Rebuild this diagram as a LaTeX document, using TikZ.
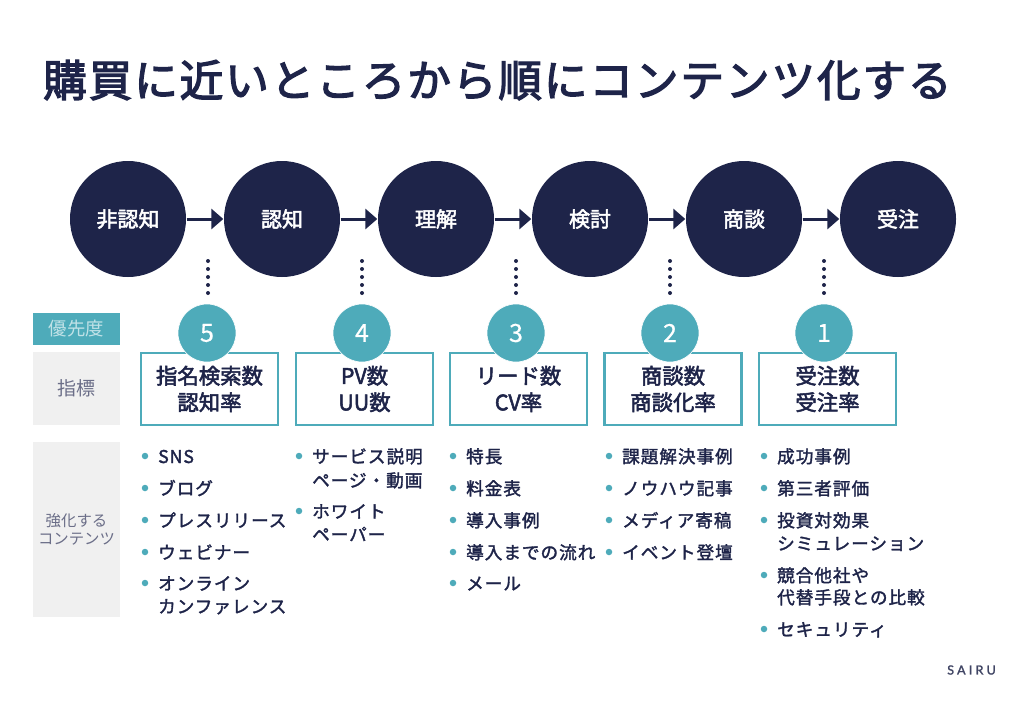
\documentclass[tikz,border=0pt]{standalone}
\usepackage{fontspec}
\setmainfont{Noto Sans CJK JP}
\newfontfamily\titlefont[LetterSpace=4.4,FakeBold=3]{Noto Sans CJK JP}
\newfontfamily\medfont[FakeBold=2.4]{Noto Sans CJK JP}
\newfontfamily\itemfont[LetterSpace=5.6,FakeBold=1.8]{Noto Sans CJK JP}
\newfontfamily\lightfont[FakeBold=0.6]{Noto Sans CJK JP}
\newfontfamily\logofont[LetterSpace=26,FakeBold=1.8]{Lato}
\definecolor{navy}{HTML}{1E2449}
\definecolor{teal2}{HTML}{4EABBA}
\definecolor{panel}{HTML}{F0F0F0}
\definecolor{graytext}{HTML}{6B6E88}
\usetikzlibrary{arrows.meta}
\tikzset{
  stage/.style={circle,fill=navy,draw=none,minimum size=116pt,inner sep=0pt,text=white,font=\medfont\fontsize{21}{21}\selectfont},
  flow/.style={draw=navy,line width=3pt,-{Triangle[length=12pt,width=20pt]},shorten >=0.5pt,shorten <=0.5pt},
  dotline/.style={draw=navy,line width=4pt,line cap=round,dash pattern=on 0pt off 8pt},
  metric/.style={draw=teal2,fill=white,line width=2.6pt,minimum width=137pt,minimum height=72pt,inner sep=0pt,align=center,text=navy,font=\medfont\fontsize{21.4}{26.5}\selectfont},
  prio/.style={circle,fill=teal2,draw=white,line width=0.6pt,minimum size=58pt,inner sep=0pt,text=white,font=\lightfont\fontsize{25}{25}\selectfont},
  panelbox/.style={fill=panel,draw=none,minimum width=87pt,inner sep=0pt,align=center,text=graytext},
  itemtext/.style={anchor=west,inner sep=0pt,text=navy,align=left,text height=14.5pt,text depth=2.5pt,font=\itemfont\fontsize{17.6}{23}\selectfont},
  bullet/.style={circle,fill=teal2,draw=none,minimum size=6.5pt,inner sep=0pt},
}
\newcommand{\listitem}[4]{%
  \node[bullet] (b#1) at (#2-13,#3-1) {};
  \node[itemtext] (t#1) at (#2,#3) {#4};
}
\begin{document}
\begin{tikzpicture}[x=1pt,y=-1pt]
\useasboundingbox (0,0) rectangle (1024,701);
\fill[white] (0,0) rectangle (1024,701);
\node[anchor=west,inner sep=0pt,text=navy,text height=38pt,text depth=5pt,font=\titlefont\fontsize{43.6}{43.6}\selectfont] (title) at (43,80) {購買に近いところから順にコンテンツ化する};

\node[stage] (s1) at (128,219) {非認知};
\node[stage] (s2) at (282,219) {認知};
\node[stage] (s3) at (436,219) {理解};
\node[stage] (s4) at (590,219) {検討};
\node[stage] (s5) at (744,219) {商談};
\node[stage] (s6) at (898,219) {受注};
\draw[flow] (s1) -- (s2);
\draw[flow] (s2) -- (s3);
\draw[flow] (s3) -- (s4);
\draw[flow] (s4) -- (s5);
\draw[flow] (s5) -- (s6);

\node[fill=teal2,minimum width=87pt,minimum height=32pt,inner sep=0pt,text=white!65!teal2,font=\fontsize{18.4}{18.4}\selectfont] (prioritylabel) at (76.5,329) {優先度};
\node[panelbox,minimum height=73pt,font=\fontsize{19}{19}\selectfont] (metriclabel) at (76.5,388.5) {指標};
\node[panelbox,minimum height=175pt,font=\fontsize{15.4}{18.5}\selectfont] (contentlabel) at (76.5,529.5) {強化する\\コンテンツ};

\node[metric] (m5) at (209.5,389) {指名検索数\\認知率};
\node[metric] (m4) at (364.5,389) {PV数\\UU数};
\node[metric] (m3) at (518.5,389) {リード数\\CV率};
\node[metric] (m2) at (673,389) {商談数\\商談化率};
\node[metric] (m1) at (827.5,389) {受注数\\受注率};

\node[prio] (p5) at (207,333) {5};
\node[prio] (p4) at (362,333) {4};
\node[prio] (p3) at (516,333) {3};
\node[prio] (p2) at (670,333) {2};
\node[prio] (p1) at (824,333) {1};

\foreach \n/\x in {5/208,4/362,3/516,2/670,1/824}{
  \coordinate (dt\n) at (\x,261);
  \coordinate (db\n) at (\x,294);
  \draw[dotline] (dt\n) -- (db\n);
}

\listitem{a1}{158}{457}{SNS}
\listitem{a2}{158}{489}{ブログ}
\listitem{a3}{158}{521}{プレスリリース}
\listitem{a4}{158}{553}{ウェビナー}
\listitem{a5}{158}{584}{オンライン}
\node[itemtext] (ta6) at (158,607) {カンファレンス};

\listitem{b1}{312}{457}{サービス説明}
\node[itemtext] (tb2) at (312,481) {ページ・動画};
\listitem{b3}{312}{512}{ホワイト}
\node[itemtext] (tb4) at (312,535) {ペーパー};

\listitem{c1}{466}{457}{特長}
\listitem{c2}{466}{489}{料金表}
\listitem{c3}{466}{521}{導入事例}
\listitem{c4}{466}{553}{導入までの流れ}
\listitem{c5}{466}{584}{メール}

\listitem{d1}{622}{457}{課題解決事例}
\listitem{d2}{622}{489}{ノウハウ記事}
\listitem{d3}{622}{521}{メディア寄稿}
\listitem{d4}{622}{553}{イベント登壇}

\listitem{e1}{777}{457}{成功事例}
\listitem{e2}{777}{489}{第三者評価}
\listitem{e3}{777}{521}{投資対効果}
\node[itemtext] (te4) at (777,544) {シミュレーション};
\listitem{e5}{777}{576}{競合他社や}
\node[itemtext] (te6) at (777,598) {代替手段との比較};
\listitem{e7}{777}{630}{セキュリティ}

\node[anchor=east,inner sep=0pt,text=navy!85!white,font=\logofont\fontsize{12.5}{12.5}\selectfont] (logo) at (996,670) {SAIRU};
\end{tikzpicture}
\end{document}
